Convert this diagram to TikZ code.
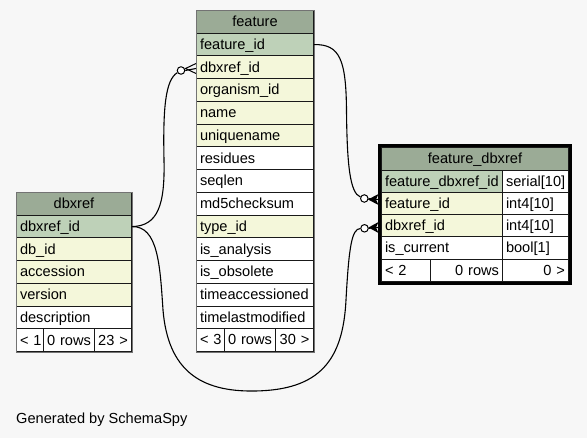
\documentclass[tikz,border=0pt]{standalone}
\usepackage{fontspec}
\setmainfont{Liberation Sans}
\newcommand\tabfont{\fontsize{14.6}{17}\selectfont}
\definecolor{bg}{HTML}{F7F7F7}
\definecolor{hdr}{HTML}{9BAB96}
\definecolor{pk}{HTML}{BED1B8}
\definecolor{fk}{HTML}{F4F7DA}
\newcommand\mycell[8]{%
  \pgfmathsetmacro\cellw{#4-7}%
  \node[cell, fill=#6, minimum height=#5pt, text width=\cellw pt, align=#7] (#1) at (#2,{#3}) {#8};}
\begin{document}
\begin{tikzpicture}[x=1pt,y=-1pt,
  cell/.style={draw=black!90, line width=1pt, inner xsep=3.5pt, inner ysep=0pt,
    text height=10.7pt, text depth=1pt, anchor=north west, font=\tabfont},
  edge/.style={line width=1.1pt, black},
  opt/.style={circle, draw=black, fill=white, line width=1pt, inner sep=0pt, minimum size=7.5pt},
  frame/.style={draw=black!55, line width=0.9pt},
  selframe/.style={draw=black, line width=3pt}]
\useasboundingbox (0,0) rectangle (587,438);
\fill[bg] (0,0) rectangle (587,438);

% ---- feature table ----
\mycell{fh}{196}{10}{117}{22.733}{hdr}{center}{feature}
\foreach \t/\c [count=\i from 1] in {feature\_id/pk, dbxref\_id/fk, organism\_id/fk, name/fk,
   uniquename/fk, residues/white, seqlen/white, md5checksum/white, type\_id/fk,
   is\_analysis/white, is\_obsolete/white, timeaccessioned/white, timelastmodified/white}{
  \mycell{f\i}{196}{10+\i*22.733}{117}{22.733}{\c}{left}{\t}
}
\mycell{ff1}{196}{328.27}{28}{22.733}{white}{center}{\mbox{< 3}}
\mycell{ff2}{224}{328.27}{51}{22.733}{white}{center}{\mbox{0 rows}}
\mycell{ff3}{275}{328.27}{38}{22.733}{white}{center}{\mbox{30 >}}
\draw[frame] (fh.north west) rectangle (ff3.south east);

% ---- dbxref table ----
\mycell{dh}{16}{192}{115}{22.733}{hdr}{center}{dbxref}
\foreach \t/\c [count=\i from 1] in {dbxref\_id/pk, db\_id/fk, accession/fk, version/fk, description/white}{
  \mycell{d\i}{16}{192+\i*22.733}{115}{22.733}{\c}{left}{\t}
}
\mycell{df1}{16}{328.4}{27}{22.733}{white}{center}{\mbox{< 1}}
\mycell{df2}{43}{328.4}{51}{22.733}{white}{center}{\mbox{0 rows}}
\mycell{df3}{94}{328.4}{37}{22.733}{white}{center}{\mbox{23 >}}
\draw[frame] (dh.north west) rectangle (df3.south east);

% ---- feature_dbxref table ----
\mycell{xh}{381}{147.5}{187}{22.25}{hdr}{center}{feature\_dbxref}
\mycell{x1}{381}{169.75}{121}{22.25}{pk}{left}{\mbox{feature\_dbxref\_id}}
\mycell{y1}{502}{169.75}{66}{22.25}{white}{left}{serial[10]}
\mycell{x2}{381}{192}{121}{22.25}{fk}{left}{feature\_id}
\mycell{y2}{502}{192}{66}{22.25}{white}{left}{int4[10]}
\mycell{x3}{381}{214.25}{121}{22.25}{fk}{left}{dbxref\_id}
\mycell{y3}{502}{214.25}{66}{22.25}{white}{left}{int4[10]}
\mycell{x4}{381}{236.5}{121}{22.25}{white}{left}{is\_current}
\mycell{y4}{502}{236.5}{66}{22.25}{white}{left}{bool[1]}
\mycell{xf1}{381}{258.75}{49}{22.25}{white}{left}{\mbox{< 2}}
\mycell{xf2}{430}{258.75}{72}{22.25}{white}{right}{\mbox{0 rows}}
\mycell{xf3}{502}{258.75}{66}{22.25}{white}{right}{\mbox{0 >}}
\draw[selframe] ([xshift=-1.5pt,yshift=1.5pt]xh.north west) rectangle ([xshift=1.5pt,yshift=-1.5pt]xf3.south east);

% ---- optional-end circles ----
\node[opt] (c1) at (364.3,198.5) {};
\node[opt] (c2) at (181,70.5) {};
\node[opt] (c3) at (364.5,228.3) {};

% ---- connectors ----
\draw[edge] (f1.east) .. controls (340,44) and (346,60) .. (346.5,110)
   .. controls (347,165) and (350,193) .. (c1);
\draw[edge] (d1.east) .. controls (158,226) and (165,205) .. (164,160)
   .. controls (163,110) and (165,80) .. (c2);
\draw[edge] (d1.east) .. controls (158,226) and (160,265) .. (163,310)
   .. controls (168,370) and (200,392) .. (255,391)
   .. controls (320,390) and (343,360) .. (346,300)
   .. controls (349,245) and (352,229) .. (c3);

% ---- crow's feet ----
\draw[edge] (c1.east) -- (378,199.5);
\fill (368,199.5) -- (378.5,194) -- (376,199.5) -- (378.5,205) -- cycle;
\draw[edge] (c3.east) -- (378,227.5);
\fill (368.5,227.5) -- (378.5,222) -- (376,227.5) -- (378.5,233) -- cycle;
\draw[edge] (c2.east) -- (196,68.5);
\draw[line width=1pt] (196,63.5) -- (185.5,68.5) -- (196,73.5);

\node[anchor=base west, font=\tabfont, inner sep=0pt] (gen) at (16,424) {Generated by SchemaSpy};
\end{tikzpicture}
\end{document}
